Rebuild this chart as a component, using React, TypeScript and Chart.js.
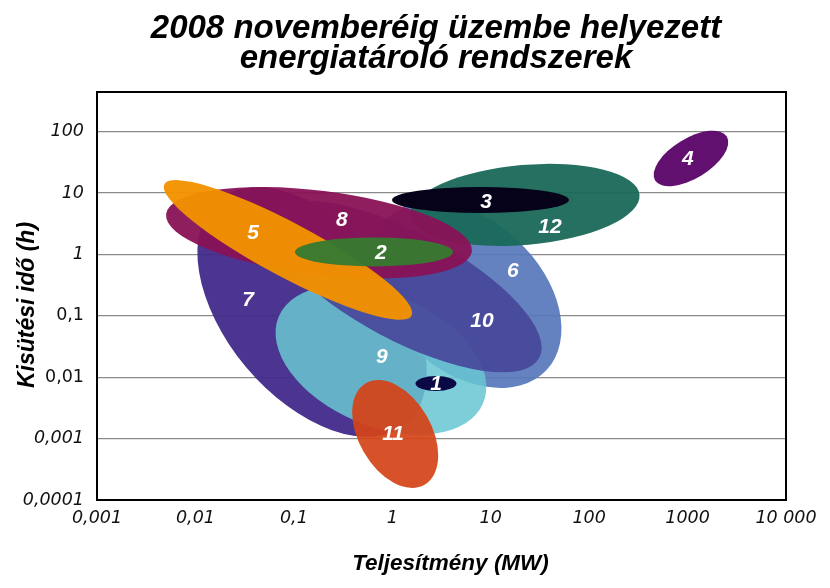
import React, { useEffect, useRef } from "react";
import { Chart, registerables } from "chart.js";

Chart.register(...registerables);

// ---- Data ----
const systemIds = ["1", "2", "3", "4", "5", "6", "7", "8", "9", "10", "11", "12"];
// centre of each range (power in MW, discharge time in h)
const centerPower = [2.78, 0.652, 7.87, 1083, 0.0871, 5.62, 0.153, 0.18, 0.767, 1.35, 1.07, 22.3];
const centerTime = [0.00788, 1.094, 7.69, 36.5, 1.18, 0.218, 0.1153, 2.25, 0.0191, 0.3, 0.00119, 6.4];
// half extent of each range along its main axes, in decades
const majorSpan = [0.208, 0.803, 0.899, 0.427, 1.422, 1.118, 1.483, 1.565, 1.128, 1.544, 0.596, 1.168];
const minorSpan = [0.076, 0.147, 0.132, 0.203, 0.274, 0.762, 0.874, 0.427, 0.671, 0.549, 0.369, 0.406];
const tiltDeg = [0, 0, 0, -31.5, 28, 43, 50, 7, 23, 28, 60, -5];
// number label anchor for each range
const labelPower = [2.78, 0.767, 8.95, 1009, 0.0385, 16.8, 0.0342, 0.308, 0.785, 8.15, 1.02, 40.0];
const labelTime = [0.00805, 1.094, 7.41, 37.2, 2.32, 0.557, 0.188, 3.78, 0.0221, 0.0855, 0.00123, 2.9];
const drawOrder = ["7", "6", "9", "10", "12", "8", "5", "2", "3", "4", "11", "1"];

const powerTicks = [0.001, 0.01, 0.1, 1, 10, 100, 1000, 10000];
const powerTickLabels = ["0,001", "0,01", "0,1", "1", "10", "100", "1000", "10 000"];
const timeTicks = [0.0001, 0.001, 0.01, 0.1, 1, 10, 100];
const timeTickLabels = ["0,0001", "0,001", "0,01", "0,1", "1", "10", "100"];
const uprightTimeLabels = ["0,1", "0,01"];

const titleLines = ["2008 novemberéig üzembe helyezett", "energiatároló rendszerek"];
const xTitle = "Teljesítmény (MW)";
const yTitle = "Kisütési idő (h)";

// ---- Styles ----
const fillColors = [
  "#0a0946", "#377a30", "#05021a", "#5c086b", "#f39200", "#5777ba",
  "#422a8a", "#891256", "#68c6d2", "#48489a", "#d44419", "#196859",
];
const fillAlpha = [1, 0.96, 1, 0.97, 0.96, 0.92, 0.95, 0.95, 0.86, 0.92, 0.93, 0.95];

const SANS = '"Liberation Sans", Arial, sans-serif';
const DEJAVU = '"DejaVu Sans", sans-serif';

const ellipsePlugin = {
  id: "rangeEllipses",
  beforeDatasetsDraw(chart: any) {
    const { ctx, chartArea, scales } = chart;
    const xs = scales.x;
    const ys = scales.y;
    const pxPerDecade = xs.getPixelForValue(10) - xs.getPixelForValue(1);
    ctx.save();
    ctx.beginPath();
    ctx.rect(chartArea.left, chartArea.top, chartArea.right - chartArea.left, chartArea.bottom - chartArea.top);
    ctx.clip();
    drawOrder.forEach((id) => {
      const i = systemIds.indexOf(id);
      const cx = xs.getPixelForValue(centerPower[i]);
      const cy = ys.getPixelForValue(centerTime[i]);
      ctx.globalAlpha = fillAlpha[i];
      ctx.fillStyle = fillColors[i];
      ctx.beginPath();
      ctx.ellipse(
        cx,
        cy,
        majorSpan[i] * pxPerDecade,
        minorSpan[i] * pxPerDecade,
        (tiltDeg[i] * Math.PI) / 180,
        0,
        Math.PI * 2
      );
      ctx.fill();
    });
    ctx.globalAlpha = 1;
    ctx.fillStyle = "#ffffff";
    ctx.font = `italic bold 21px ${SANS}`;
    ctx.textAlign = "center";
    ctx.textBaseline = "middle";
    systemIds.forEach((id, i) => {
      ctx.fillText(id, xs.getPixelForValue(labelPower[i]), ys.getPixelForValue(labelTime[i]) + 1);
    });
    ctx.restore();
  },
  afterDraw(chart: any) {
    const { ctx, chartArea } = chart;
    ctx.save();
    ctx.strokeStyle = "#000";
    ctx.lineWidth = 2;
    ctx.strokeRect(chartArea.left, chartArea.top, chartArea.right - chartArea.left, chartArea.bottom - chartArea.top);

    // chart title
    ctx.fillStyle = "#000";
    ctx.textAlign = "center";
    ctx.textBaseline = "alphabetic";
    ctx.font = `italic bold 33px ${SANS}`;
    ctx.fillText(titleLines[0], 436, 38);
    ctx.fillText(titleLines[1], 436, 67.5);

    // axis titles
    const plotMidX = (chartArea.left + chartArea.right) / 2;
    const plotMidY = (chartArea.top + chartArea.bottom) / 2;
    ctx.font = `italic bold 22.5px ${SANS}`;
    ctx.fillText(xTitle, plotMidX + 9, 570);
    ctx.save();
    ctx.translate(34, plotMidY + 9);
    ctx.rotate(-Math.PI / 2);
    ctx.font = `italic bold 23px ${SANS}`;
    ctx.fillText(yTitle, 0, 0);
    ctx.restore();
    ctx.restore();
  },
};

export default function App() {
  const canvasRef = useRef<HTMLCanvasElement | null>(null);

  useEffect(() => {
    const canvas = canvasRef.current;
    if (!canvas) return;
    const chart = new Chart(canvas, {
      type: "scatter",
      data: {
        datasets: [
          {
            label: "centres",
            data: centerPower.map((p, i) => ({ x: p, y: centerTime[i] })),
            pointRadius: 0,
            pointHoverRadius: 0,
            showLine: false,
          },
        ],
      },
      options: {
        responsive: false,
        animation: false,
        devicePixelRatio: 1,
        layout: { padding: { top: 92, right: 44, bottom: 0, left: 0 } },
        plugins: {
          legend: { display: false },
          tooltip: { enabled: false },
          title: { display: false },
        },
        scales: {
          x: {
            type: "logarithmic",
            min: 0.001,
            max: 10000,
            afterBuildTicks: (scale: any) => {
              scale.ticks = powerTicks.map((v) => ({ value: v }));
            },
            afterFit: (scale: any) => {
              scale.height = 88;
            },
            grid: { display: false, drawTicks: false },
            border: { display: false },
            ticks: {
              autoSkip: false,
              maxRotation: 0,
              padding: 8,
              color: "#111",
              font: { family: DEJAVU, size: 17.5, style: "italic" },
              callback: (_v: any, index: number) => powerTickLabels[index],
            },
            title: { display: false },
          },
          y: {
            type: "logarithmic",
            min: 0.0001,
            max: 441,
            afterBuildTicks: (scale: any) => {
              scale.ticks = timeTicks.map((v) => ({ value: v }));
            },
            afterFit: (scale: any) => {
              scale.width = 97;
            },
            grid: { display: true, drawTicks: false, color: "#8a8a8a", lineWidth: 1.3 },
            border: { display: false },
            ticks: {
              autoSkip: false,
              padding: 13,
              color: "#111",
              font: (c: any) => {
                const idx = timeTicks.indexOf(c.tick ? c.tick.value : -1);
                const lbl = idx >= 0 ? timeTickLabels[idx] : "";
                return {
                  family: DEJAVU,
                  size: 17.5,
                  style: uprightTimeLabels.includes(lbl) ? "normal" : "italic",
                };
              },
              callback: (_v: any, index: number) => timeTickLabels[index],
            },
            title: { display: false },
          },
        },
      },
      plugins: [ellipsePlugin],
    } as any);
    return () => chart.destroy();
  }, []);

  return (
    <div style={{ position: "absolute", left: 0, top: 0, width: 830, height: 588, background: "#fff" }}>
      <canvas ref={canvasRef} width={830} height={588} style={{ width: 830, height: 588, display: "block" }} />
    </div>
  );
}
